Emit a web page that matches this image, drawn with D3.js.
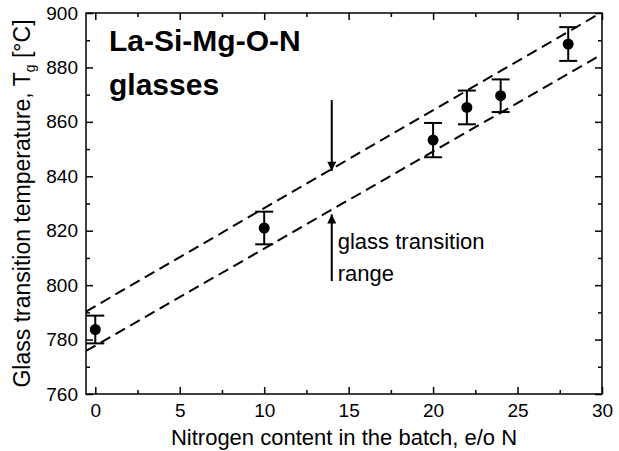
<!DOCTYPE html>
<meta charset="utf-8">
<style>
body { margin: 0; background: #fff; }
svg { font-family: Arial, "Liberation Sans", Helvetica, sans-serif; }
.tick text { font-size: 19px; fill: #000; }
</style>
<svg id="chart" width="619" height="451"></svg>
<script src="https://d3js.org/d3.v7.min.js"></script>
<script>

// measured points
var nitrogen = [0, 10, 20, 22, 24, 28];
var tg = [783.7, 821, 853.3, 865.3, 869.6, 888.6];
var tgErr = [5.1, 6, 6.3, 6.2, 6, 6.2];

// dashed bounds of the transition range (two ends each)
var boundX = [-0.55, 30];
var upperTg = [790.3, 900.3];
var lowerTg = [775.8, 884.8];

// arrows at N = 14
var arrowX = 14;
var downArrow = [868, 842];
var upArrow = [801.5, 826];

var xTicks = [0, 5, 10, 15, 20, 25, 30];
var yTicks = [760, 780, 800, 820, 840, 860, 880, 900];

var svg = d3.select("#chart"),
    margin = {top: 13, right: 17, bottom: 57, left: 86},
    width = 619 - margin.left - margin.right,
    height = 451 - margin.top - margin.bottom,
    g = svg.append("g").attr("transform", "translate(" + margin.left + "," + margin.top + ")");

var x = d3.scaleLinear().domain([-0.55, 30]).range([0, width]);
var y = d3.scaleLinear().domain([760, 900]).range([height, 0]);

var defs = svg.append("defs");
defs.append("marker")
    .attr("id", "head")
    .attr("viewBox", "0 0 10 10")
    .attr("refX", 10).attr("refY", 5)
    .attr("markerUnits", "userSpaceOnUse")
    .attr("markerWidth", 16).attr("markerHeight", 9)
    .attr("orient", "auto")
  .append("path")
    .attr("d", "M0,0L10,5L0,10Z")
    .attr("fill", "#000");

// axes, ticks inward on all sides
function styleAxis(sel) {
  sel.select(".domain").remove();
  sel.selectAll(".tick line").attr("stroke", "#000").attr("stroke-width", 1.5);
}

var minorX = d3.range(2.5, 30, 5);
var minorY = d3.range(770, 900, 20);

g.append("g").attr("transform", "translate(0," + height + ")")
    .call(d3.axisBottom(x).tickValues(xTicks).tickSizeInner(-7).tickSizeOuter(0).tickPadding(10))
    .call(styleAxis);
g.append("g").attr("transform", "translate(0," + height + ")")
    .call(d3.axisBottom(x).tickValues(minorX).tickSizeInner(-4).tickSizeOuter(0).tickFormat(""))
    .call(styleAxis);
g.append("g")
    .call(d3.axisTop(x).tickValues(xTicks).tickSizeInner(-7).tickSizeOuter(0).tickFormat(""))
    .call(styleAxis);
g.append("g")
    .call(d3.axisTop(x).tickValues(minorX).tickSizeInner(-4).tickSizeOuter(0).tickFormat(""))
    .call(styleAxis);

g.append("g")
    .call(d3.axisLeft(y).tickValues(yTicks).tickSizeInner(-7).tickSizeOuter(0).tickPadding(8))
    .call(styleAxis);
g.append("g")
    .call(d3.axisLeft(y).tickValues(minorY).tickSizeInner(-4).tickSizeOuter(0).tickFormat(""))
    .call(styleAxis);
g.append("g").attr("transform", "translate(" + width + ",0)")
    .call(d3.axisRight(y).tickValues(yTicks).tickSizeInner(-7).tickSizeOuter(0).tickFormat(""))
    .call(styleAxis);
g.append("g").attr("transform", "translate(" + width + ",0)")
    .call(d3.axisRight(y).tickValues(minorY).tickSizeInner(-4).tickSizeOuter(0).tickFormat(""))
    .call(styleAxis);

g.selectAll(".tick text").attr("fill", "#000");

g.append("rect")
    .attr("width", width).attr("height", height)
    .attr("fill", "none").attr("stroke", "#000").attr("stroke-width", 1.5);

// dashed lines, clipped to the frame
defs.append("clipPath").attr("id", "clip")
  .append("rect").attr("width", width).attr("height", height);

var line = d3.line().x(function(d) { return x(d[0]); }).y(function(d) { return y(d[1]); });
[upperTg, lowerTg].forEach(function(b) {
  g.append("path")
      .attr("clip-path", "url(#clip)")
      .attr("d", line(boundX.map(function(v, i) { return [v, b[i]]; })))
      .attr("fill", "none")
      .attr("stroke", "#000")
      .attr("stroke-width", 2)
      .attr("stroke-dasharray", "11,6");
});

// error bars
var pts = nitrogen.map(function(n, i) { return {n: n, t: tg[i], e: tgErr[i]}; });
var eb = g.selectAll(".err").data(pts).enter().append("g").attr("class", "err")
    .attr("stroke", "#000").attr("stroke-width", 2);
eb.append("line")
    .attr("x1", function(d) { return x(d.n); }).attr("x2", function(d) { return x(d.n); })
    .attr("y1", function(d) { return y(d.t - d.e); }).attr("y2", function(d) { return y(d.t + d.e); });
eb.append("line")
    .attr("x1", function(d) { return x(d.n) - 9; }).attr("x2", function(d) { return x(d.n) + 9; })
    .attr("y1", function(d) { return y(d.t + d.e); }).attr("y2", function(d) { return y(d.t + d.e); });
eb.append("line")
    .attr("x1", function(d) { return x(d.n) - 9; }).attr("x2", function(d) { return x(d.n) + 9; })
    .attr("y1", function(d) { return y(d.t - d.e); }).attr("y2", function(d) { return y(d.t - d.e); });

g.selectAll(".dot").data(pts).enter().append("circle")
    .attr("class", "dot")
    .attr("cx", function(d) { return x(d.n); })
    .attr("cy", function(d) { return y(d.t); })
    .attr("r", 5.5)
    .attr("fill", "#000");

// arrows
[downArrow, upArrow].forEach(function(a) {
  g.append("line")
      .attr("x1", x(arrowX)).attr("x2", x(arrowX))
      .attr("y1", y(a[0])).attr("y2", y(a[1]))
      .attr("stroke", "#000").attr("stroke-width", 2)
      .attr("marker-end", "url(#head)");
});

// annotations
g.append("text").attr("x", x(arrowX) + 6).attr("y", 236)
    .attr("font-size", 22).text("glass transition");
g.append("text").attr("x", x(arrowX) + 6).attr("y", 268)
    .attr("font-size", 22).text("range");

g.append("text").attr("x", 23).attr("y", 38)
    .attr("font-size", 30).attr("font-weight", "bold").text("La-Si-Mg-O-N");
g.append("text").attr("x", 23).attr("y", 82)
    .attr("font-size", 30).attr("font-weight", "bold").text("glasses");

// axis titles
svg.append("text")
    .attr("x", margin.left + width / 2).attr("y", 445)
    .attr("text-anchor", "middle").attr("font-size", 22)
    .text("Nitrogen content in the batch, e/o N");

var yt = svg.append("text")
    .attr("transform", "translate(30," + (margin.top + height / 2) + ") rotate(-90)")
    .attr("text-anchor", "middle").attr("font-size", 23);
yt.append("tspan").text("Glass transition temperature, T");
yt.append("tspan").attr("font-size", 14).attr("dy", 5).text("g");
yt.append("tspan").attr("dy", -5).text(" [°C]");

</script>
